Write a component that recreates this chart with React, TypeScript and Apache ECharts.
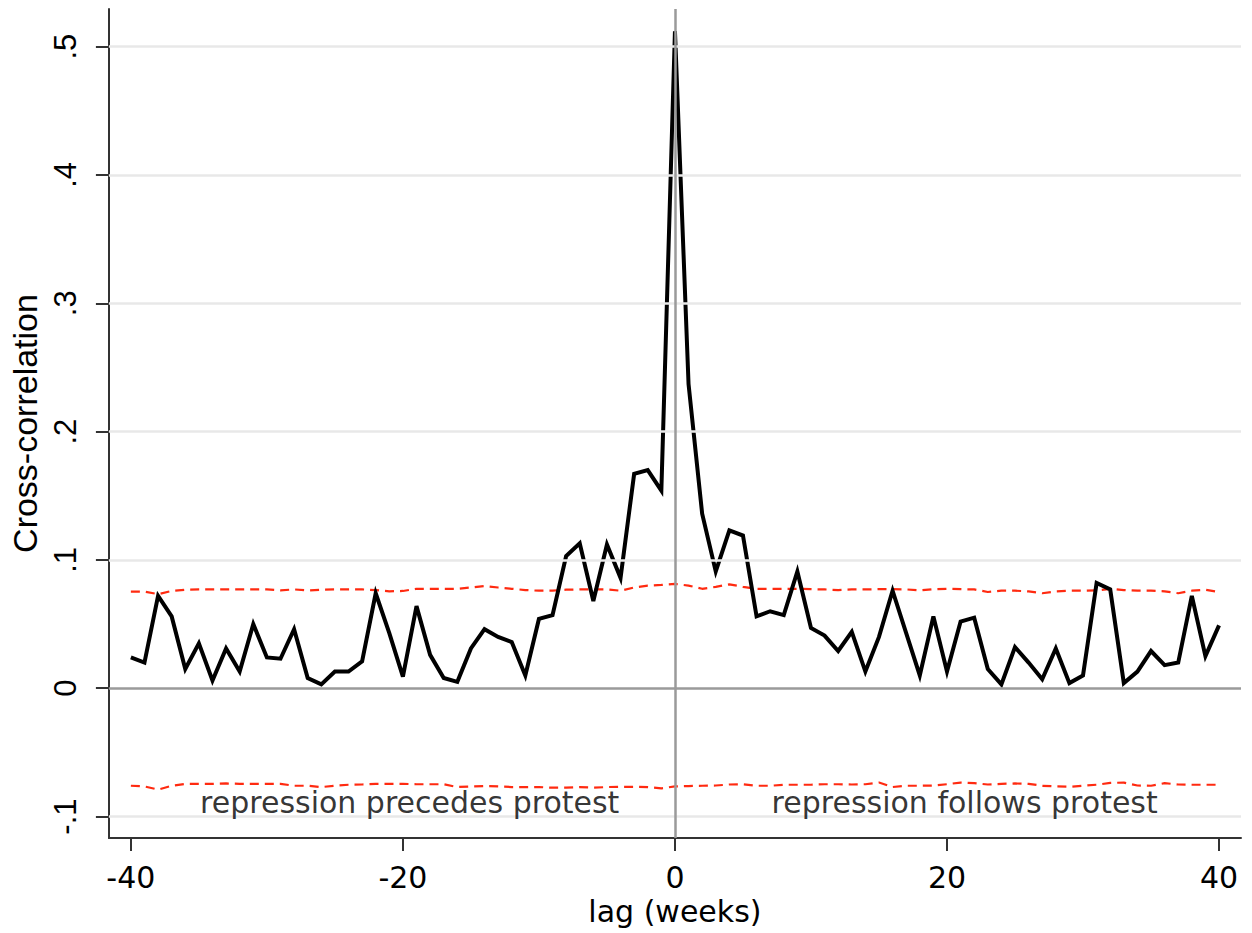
import React, { useEffect, useRef } from "react";
import * as echarts from "echarts";

const lags = [
  -40, -39, -38, -37, -36, -35, -34, -33, -32, -31, -30, -29, -28, -27, -26, -25, -24, -23, -22, -21,
  -20, -19, -18, -17, -16, -15, -14, -13, -12, -11, -10, -9, -8, -7, -6, -5, -4, -3, -2, -1,
  0, 1, 2, 3, 4, 5, 6, 7, 8, 9, 10, 11, 12, 13, 14, 15, 16, 17, 18, 19,
  20, 21, 22, 23, 24, 25, 26, 27, 28, 29, 30, 31, 32, 33, 34, 35, 36, 37, 38, 39, 40,
];

const crossCorr = [
  0.024, 0.020, 0.072, 0.056, 0.015, 0.035, 0.006, 0.031, 0.013, 0.050,
  0.024, 0.023, 0.046, 0.008, 0.003, 0.013, 0.013, 0.021, 0.074, 0.043,
  0.009, 0.064, 0.026, 0.008, 0.005, 0.031, 0.046, 0.040, 0.036, 0.010,
  0.054, 0.057, 0.103, 0.113, 0.068, 0.112, 0.086, 0.167, 0.170, 0.154,
  0.512,
  0.237, 0.136, 0.091, 0.123, 0.119, 0.056, 0.060, 0.057, 0.091, 0.047,
  0.041, 0.029, 0.044, 0.013, 0.040, 0.076, 0.043, 0.010, 0.056, 0.013,
  0.052, 0.055, 0.015, 0.003, 0.032, 0.020, 0.007, 0.031, 0.004, 0.010,
  0.082, 0.077, 0.004, 0.013, 0.029, 0.018, 0.020, 0.072, 0.025, 0.049,
];

const upperBand = [
  0.0753, 0.0753, 0.0733, 0.0758, 0.0768, 0.077, 0.077, 0.077, 0.077, 0.077,
  0.077, 0.0763, 0.077, 0.0762, 0.0768, 0.077, 0.077, 0.077, 0.0765, 0.0755,
  0.0758, 0.0775, 0.0775, 0.0775, 0.0775, 0.0785, 0.0797, 0.0785, 0.0775, 0.0765,
  0.076, 0.076, 0.0768, 0.077, 0.077, 0.077, 0.076, 0.0785, 0.08, 0.0805,
  0.0813,
  0.08, 0.0775, 0.079, 0.081, 0.079, 0.0775, 0.0775, 0.0775, 0.0775, 0.0772,
  0.077, 0.0765, 0.077, 0.077, 0.0772, 0.0772, 0.077, 0.0762, 0.0772, 0.0775,
  0.0772, 0.077, 0.075, 0.076, 0.076, 0.0755, 0.074, 0.0755, 0.076, 0.076,
  0.0762, 0.0775, 0.0765, 0.076, 0.076, 0.0755, 0.074, 0.076, 0.0768, 0.075,
];

const lowerBand = [
  -0.076, -0.0765, -0.079, -0.076, -0.0745, -0.0745, -0.0745, -0.0742, -0.0745, -0.0745,
  -0.0745, -0.0745, -0.076, -0.076, -0.077, -0.076, -0.0752, -0.075, -0.0745, -0.0745,
  -0.0745, -0.0748, -0.0748, -0.0748, -0.077, -0.0765, -0.0762, -0.0765, -0.077, -0.077,
  -0.077, -0.0775, -0.0775, -0.077, -0.0775, -0.077, -0.0768, -0.0768, -0.077, -0.078,
  -0.0765,
  -0.0762, -0.076, -0.0758, -0.075, -0.0748, -0.076, -0.076, -0.0752, -0.0752, -0.0752,
  -0.0748, -0.0748, -0.075, -0.0748, -0.0735, -0.077, -0.076, -0.076, -0.0758, -0.0748,
  -0.0735, -0.074, -0.075, -0.0745, -0.0742, -0.0745, -0.076, -0.0765, -0.0768, -0.076,
  -0.0752, -0.0738, -0.0735, -0.0758, -0.076, -0.074, -0.075, -0.0752, -0.0752, -0.0752,
];

const xTicks = [-40, -20, 0, 20, 40];
const yTicks = [-0.1, 0, 0.1, 0.2, 0.3, 0.4, 0.5];
const xRange = [-41.615, 41.615];
const yRange = [-0.1167, 0.5293];

const xTitle = "lag (weeks)";
const yTitle = "Cross-correlation";
const leftNote = "repression precedes protest";
const rightNote = "repression follows protest";
const notePosY = -0.089;
const leftNoteX = -19.5;
const rightNoteX = 21.3;

const pairs = (ys: number[]) => lags.map((x, i) => [x, ys[i]]);

export default function App() {
  const ref = useRef<HTMLDivElement>(null);
  useEffect(() => {
    if (!ref.current) return;
    const chart = echarts.init(ref.current, null, { renderer: "svg" });
    const fmtY = (v: number) => {
      if (Math.abs(v) < 1e-9) return "0";
      const s = String(Math.round(v * 10) / 10);
      return s.replace("0.", ".");
    };
    const dashed = {
      color: "#ff2a10",
      width: 2.2,
      type: [9, 6] as any,
    };
    chart.setOption({
      animation: false,
      backgroundColor: "#ffffff",
      grid: { left: 107, top: 9, width: 1134, height: 829, containLabel: false },
      xAxis: {
        type: "value",
        min: xRange[0],
        max: xRange[1],
        name: xTitle,
        nameLocation: "middle",
        nameGap: 56,
        nameTextStyle: { fontFamily: "DejaVu Sans", fontSize: 30, color: "#000" },
        axisLine: { show: true, onZero: false, lineStyle: { color: "#333", width: 2 } },
        axisTick: {
          show: true,
          length: 13,
          inside: false,
          customValues: xTicks,
          lineStyle: { color: "#333", width: 2 },
        },
        axisLabel: {
          show: true,
          customValues: xTicks,
          margin: 24,
          fontFamily: "DejaVu Sans",
          fontSize: 30,
          color: "#000",
          formatter: (v: number) => String(v),
        },
        splitLine: { show: false },
      },
      yAxis: {
        type: "value",
        min: yRange[0],
        max: yRange[1],
        name: yTitle,
        nameLocation: "middle",
        nameGap: 64,
        nameRotate: 90,
        nameTextStyle: { fontFamily: "Liberation Sans", fontSize: 34, color: "#000" },
        axisLine: { show: true, onZero: false, lineStyle: { color: "#333", width: 2 } },
        axisTick: {
          show: true,
          length: 13,
          inside: false,
          customValues: yTicks,
          lineStyle: { color: "#333", width: 2 },
        },
        axisLabel: {
          show: true,
          customValues: yTicks,
          rotate: 90,
          margin: 28,
          fontFamily: "Liberation Sans",
          fontSize: 31,
          color: "#000",
          formatter: fmtY,
        },
        splitLine: { show: false },
      },
      series: [
        {
          name: "grid",
          type: "line",
          data: [],
          silent: true,
          markLine: {
            silent: true,
            symbol: "none",
            label: { show: false },
            lineStyle: { color: "#e8e8e8", width: 2.5, type: "solid" },
            data: yTicks.filter((v) => v !== 0).map((v) => ({ yAxis: v })),
          },
        },
        {
          name: "zero",
          type: "line",
          data: [],
          silent: true,
          markLine: {
            silent: true,
            symbol: "none",
            label: { show: false },
            lineStyle: { color: "#9a9a9a", width: 2.5, type: "solid" },
            data: [{ yAxis: 0 }, { xAxis: 0 }],
          },
        },
        {
          name: "upper",
          type: "line",
          data: pairs(upperBand),
          showSymbol: false,
          lineStyle: dashed,
          z: 3,
        },
        {
          name: "lower",
          type: "line",
          data: pairs(lowerBand),
          showSymbol: false,
          lineStyle: dashed,
          z: 3,
        },
        {
          name: "ccf",
          type: "line",
          data: pairs(crossCorr),
          showSymbol: false,
          lineStyle: { color: "#000", width: 4, join: "miter" as any },
          z: 4,
        },
        {
          name: "notes",
          type: "scatter",
          symbolSize: 0,
          silent: true,
          data: [
            { value: [leftNoteX, notePosY], label: { formatter: leftNote } },
            { value: [rightNoteX, notePosY], label: { formatter: rightNote } },
          ],
          label: {
            show: true,
            position: "inside",
            fontFamily: "DejaVu Sans",
            fontSize: 30,
            color: "#000000",
            textBorderWidth: 0,
          },
          z: 5,
        },
      ],
    });
    return () => chart.dispose();
  }, []);
  return (
    <div
      ref={ref}
      style={{ position: "absolute", left: 0, top: 0, width: 1252, height: 933 }}
    />
  );
}
